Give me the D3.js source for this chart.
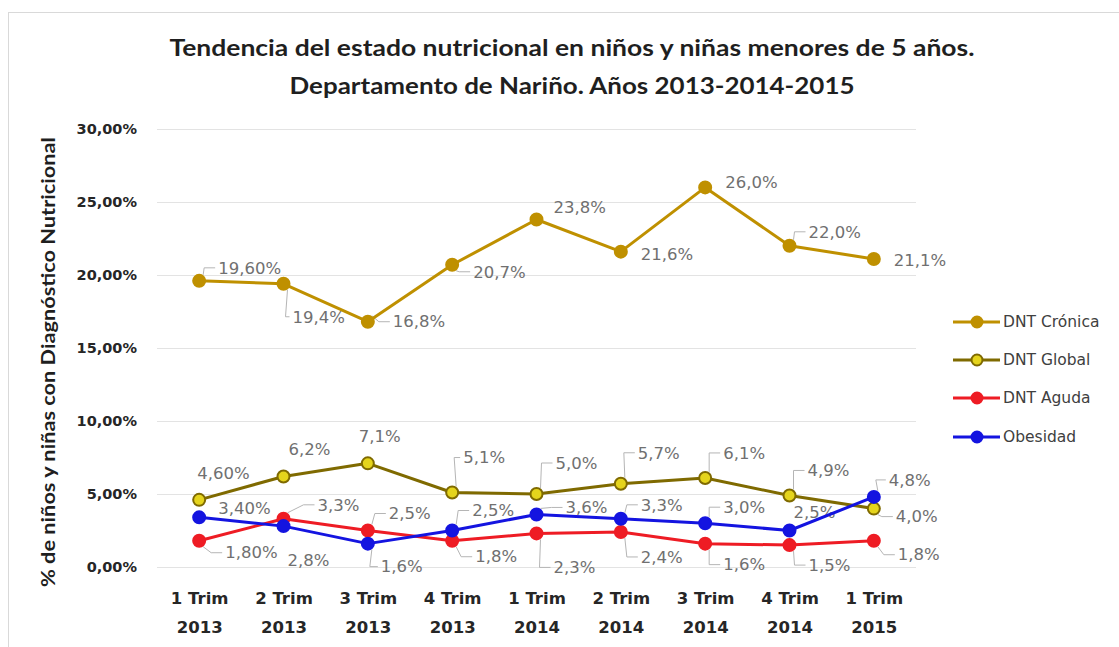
<!DOCTYPE html>
<html>
<head>
<meta charset="utf-8">
<script src="https://cdn.jsdelivr.net/npm/d3@7/dist/d3.min.js"></script>
<style>
  html, body { margin: 0; padding: 0; background: #ffffff; }
  svg { display: block; }
</style>
</head>
<body>
<svg id="chart" width="1119" height="647"></svg>
<script>
// ---------- DATA ----------
const categories = ["1 Trim 2013", "2 Trim 2013", "3 Trim 2013", "4 Trim 2013",
                    "1 Trim 2014", "2 Trim 2014", "3 Trim 2014", "4 Trim 2014", "1 Trim 2015"];
const seriesNames = ["DNT Crónica", "DNT Global", "DNT Aguda", "Obesidad"];
const dntCronica = [19.6, 19.4, 16.8, 20.7, 23.8, 21.6, 26.0, 22.0, 21.1];
const dntGlobal  = [4.6, 6.2, 7.1, 5.1, 5.0, 5.7, 6.1, 4.9, 4.0];
const dntAguda   = [1.8, 3.3, 2.5, 1.8, 2.3, 2.4, 1.6, 1.5, 1.8];
const obesidad   = [3.4, 2.8, 1.6, 2.5, 3.6, 3.3, 3.0, 2.5, 4.8];
const yTicks = [0, 5, 10, 15, 20, 25, 30];
const titleLines = ["Tendencia del estado nutricional  en niños y niñas menores de 5 años.",
                    "Departamento de Nariño. Años 2013-2014-2015"];
const yAxisTitle = "% de niños y niñas con Diagnóstico Nutricional";

// ---------- LABEL PLACEMENT (offsets from the point: left edge dx, centre dy) ----------
const offCronica = [[19,-13],[9,33],[25,0],[21,7],[17,-12],[20,3],[20,-5],[19,-14],[20,1]];
const offGlobal  = [[-2,-27],[5,-27],[-9,-27],[11,-35],[19,-31],[17,-31],[18,-25],[18,-25],[22,8]];
const offAguda   = [[26,12],[34,-14],[21,-17],[23,16],[17,34],[20,25],[18,21],[19,20],[24,14]];
const offObes    = [[19,-9],[4,34],[13,23],[20,-20],[29,-7],[20,-14],[18,-16],[4,-18],[15,-17]];

// ---------- STYLES ----------
const styles = [
  { line: "#bf9000", fill: "#bf9000", stroke: "#bf9000", off: offCronica, values: dntCronica },
  { line: "#7f6a00", fill: "#e5d41c", stroke: "#7f6a00", off: offGlobal,  values: dntGlobal },
  { line: "#ee1c24", fill: "#ee1c24", stroke: "#ee1c24", off: offAguda,   values: dntAguda },
  { line: "#1414e0", fill: "#1414e0", stroke: "#1414e0", off: offObes,    values: obesidad }
];

const locale = d3.formatLocale({ decimal: ",", thousands: ".", grouping: [3], currency: ["", ""] });
const fmtTick = v => locale.format(".2f")(v) + "%";
const fmtLabel = (v, i) => locale.format(i === 0 ? ".2f" : ".1f")(v) + "%";

const svg = d3.select("#chart");

// outer frame
svg.append("rect").attr("x", 8.5).attr("y", 12.5).attr("width", 1130).attr("height", 660)
  .attr("fill", "#ffffff").attr("stroke", "#d9d9d9").attr("stroke-width", 1);

// scales
const plotLeft = 157, plotRight = 916;
const x = d3.scalePoint().domain(categories).range([plotLeft, plotRight]).padding(0.5);
const y = d3.scaleLinear().domain([0, 30]).range([567, 129]);

// gridlines + y axis
const yAxis = d3.axisLeft(y).tickValues(yTicks).tickFormat(fmtTick)
  .tickSize(-(plotRight - plotLeft)).tickPadding(20);
const gy = svg.append("g").attr("transform", `translate(${plotLeft},0)`).call(yAxis);
gy.select(".domain").remove();
gy.selectAll(".tick line").attr("stroke", "#e3e3e3").attr("stroke-width", 1.2);
gy.selectAll(".tick text")
  .attr("font-family", "DejaVu Sans, sans-serif").attr("font-weight", "bold")
  .attr("font-size", 14.5).attr("fill", "#262626");

// x axis
const xAxis = d3.axisBottom(x).tickSize(0).tickFormat("");
const gx = svg.append("g").attr("transform", `translate(0,567)`).call(xAxis);
gx.select(".domain").remove();
gx.selectAll(".tick").each(function(d) {
  const parts = d.split(" ");
  const t = d3.select(this).append("text")
    .attr("text-anchor", "middle")
    .attr("font-family", "DejaVu Sans, sans-serif").attr("font-weight", "bold")
    .attr("font-size", 16.5).attr("fill", "#262626");
  t.append("tspan").attr("x", 0).attr("y", 37).text(parts[0] + " " + parts[1]);
  t.append("tspan").attr("x", 0).attr("y", 66).text(parts[2]);
});

// title
titleLines.forEach((line, i) => {
  svg.append("text")
    .attr("x", 572).attr("y", i === 0 ? 56 : 94)
    .attr("text-anchor", "middle")
    .attr("font-family", "Lato, 'Open Sans', sans-serif").attr("font-weight", "bold")
    .attr("font-size", 23).attr("fill", "#1f1f1f")
    .attr("textLength", i === 0 ? 805 : 565).attr("lengthAdjust", "spacingAndGlyphs")
    .text(line);
});

// y axis title
svg.append("text")
  .attr("transform", "translate(55,362) rotate(-90)")
  .attr("text-anchor", "middle")
  .attr("font-family", "Lato, 'Open Sans', sans-serif").attr("font-weight", "bold")
  .attr("font-size", 18).attr("fill", "#1f1f1f")
  .attr("textLength", 450).attr("lengthAdjust", "spacingAndGlyphs")
  .text(yAxisTitle);

// data labels + leader lines (drawn under the lines)
const labelLayer = svg.append("g");
styles.forEach(s => {
  s.values.forEach((v, i) => {
    const px = x(categories[i]), py = y(v);
    const lx = px + s.off[i][0], ly = py + s.off[i][1];
    const dist = Math.hypot(s.off[i][0], s.off[i][1]);
    if (dist > 22 && s.off[i][0] > 8) {
      const ex = Math.max(px + 2, lx - 14);
      labelLayer.append("path")
        .attr("d", `M${lx - 3},${ly} H${ex} L${px + 4},${py + (ly > py ? 6 : -6)}`)
        .attr("fill", "none").attr("stroke", "#b5b5b5").attr("stroke-width", 1);
    }
    labelLayer.append("text")
      .attr("x", lx).attr("y", ly).attr("dy", "0.35em")
      .attr("font-family", "DejaVu Sans, sans-serif").attr("font-size", 16.5)
      .attr("fill", "#707070")
      .text(fmtLabel(v, i));
  });
});

// lines + markers
const lineGen = d3.line().x((d, i) => x(categories[i])).y(d => y(d));
styles.forEach(s => {
  svg.append("path").datum(s.values)
    .attr("d", lineGen).attr("fill", "none")
    .attr("stroke", s.line).attr("stroke-width", 3).attr("stroke-linejoin", "round");
  svg.append("g").selectAll("circle").data(s.values).join("circle")
    .attr("cx", (d, i) => x(categories[i])).attr("cy", d => y(d))
    .attr("r", 6).attr("fill", s.fill).attr("stroke", s.stroke).attr("stroke-width", 2);
});

// legend
const legendRows = [322, 360, 398, 437];
seriesNames.forEach((name, k) => {
  const s = styles[k];
  const g = svg.append("g").attr("transform", `translate(0,${legendRows[k]})`);
  g.append("line").attr("x1", 953).attr("x2", 1000).attr("y1", 0).attr("y2", 0)
    .attr("stroke", s.line).attr("stroke-width", 3);
  g.append("circle").attr("cx", 977).attr("cy", 0).attr("r", 5.5)
    .attr("fill", s.fill).attr("stroke", s.stroke).attr("stroke-width", 2);
  g.append("text").attr("x", 1003).attr("y", 0).attr("dy", "0.35em")
    .attr("font-family", "DejaVu Sans, sans-serif").attr("font-size", 15.5)
    .attr("fill", "#404040").text(name);
});
</script>
</body>
</html>
